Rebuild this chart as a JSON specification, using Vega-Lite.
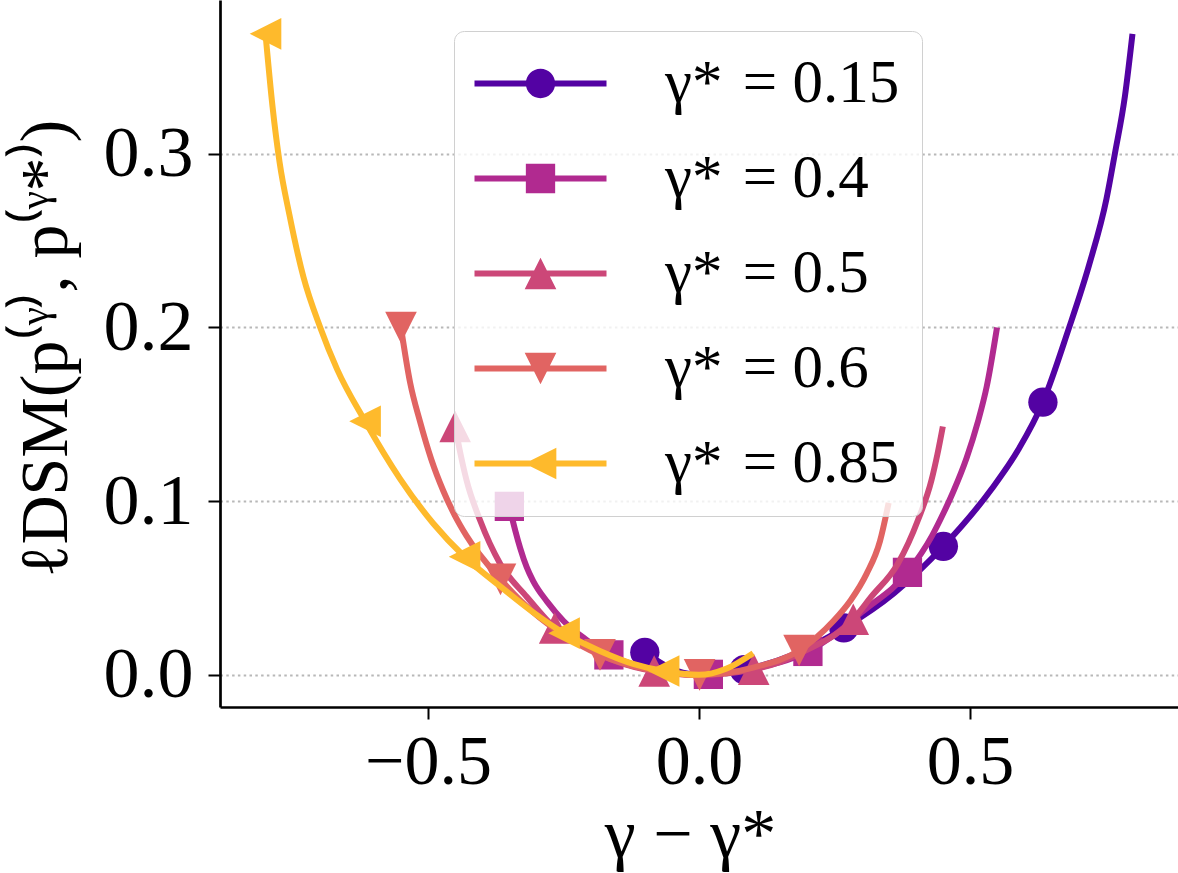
{
  "$schema": "https://vega.github.io/schema/vega-lite/v6.json",
  "width": 958,
  "height": 707,
  "autosize": {"type": "none"},
  "padding": {"left": 220, "top": 0, "right": 0, "bottom": 166},
  "background": "white",
  "config": {"view": {"stroke": null}, "font": "Liberation Serif"},
  "datasets": {
    "curves": [
      {"gamma_star": "0.15", "d": -0.1, "loss": 0.013},
      {"gamma_star": "0.15", "d": -0.06, "loss": 0.005},
      {"gamma_star": "0.15", "d": -0.03, "loss": 0.0012},
      {"gamma_star": "0.15", "d": 0.0, "loss": 0.0},
      {"gamma_star": "0.15", "d": 0.0837, "loss": 0.003},
      {"gamma_star": "0.15", "d": 0.17, "loss": 0.0112},
      {"gamma_star": "0.15", "d": 0.2673, "loss": 0.027},
      {"gamma_star": "0.15", "d": 0.36, "loss": 0.047},
      {"gamma_star": "0.15", "d": 0.451, "loss": 0.074},
      {"gamma_star": "0.15", "d": 0.54, "loss": 0.107},
      {"gamma_star": "0.15", "d": 0.59, "loss": 0.13},
      {"gamma_star": "0.15", "d": 0.6347, "loss": 0.157},
      {"gamma_star": "0.15", "d": 0.681, "loss": 0.198},
      {"gamma_star": "0.15", "d": 0.72, "loss": 0.236},
      {"gamma_star": "0.15", "d": 0.752, "loss": 0.274},
      {"gamma_star": "0.15", "d": 0.7675, "loss": 0.3},
      {"gamma_star": "0.15", "d": 0.786, "loss": 0.333},
      {"gamma_star": "0.15", "d": 0.8, "loss": 0.369},

      {"gamma_star": "0.4", "d": -0.35, "loss": 0.097},
      {"gamma_star": "0.4", "d": -0.339, "loss": 0.083},
      {"gamma_star": "0.4", "d": -0.33, "loss": 0.073},
      {"gamma_star": "0.4", "d": -0.318, "loss": 0.062},
      {"gamma_star": "0.4", "d": -0.306, "loss": 0.054},
      {"gamma_star": "0.4", "d": -0.28, "loss": 0.042},
      {"gamma_star": "0.4", "d": -0.25, "loss": 0.031},
      {"gamma_star": "0.4", "d": -0.207, "loss": 0.02},
      {"gamma_star": "0.4", "d": -0.1663, "loss": 0.0115},
      {"gamma_star": "0.4", "d": -0.1, "loss": 0.0042},
      {"gamma_star": "0.4", "d": -0.05, "loss": 0.001},
      {"gamma_star": "0.4", "d": 0.0, "loss": 0.0},
      {"gamma_star": "0.4", "d": 0.0173, "loss": 0.0003},
      {"gamma_star": "0.4", "d": 0.1, "loss": 0.0035},
      {"gamma_star": "0.4", "d": 0.201, "loss": 0.0135},
      {"gamma_star": "0.4", "d": 0.25, "loss": 0.023},
      {"gamma_star": "0.4", "d": 0.3, "loss": 0.036},
      {"gamma_star": "0.4", "d": 0.3847, "loss": 0.059},
      {"gamma_star": "0.4", "d": 0.43, "loss": 0.08},
      {"gamma_star": "0.4", "d": 0.451, "loss": 0.093},
      {"gamma_star": "0.4", "d": 0.47, "loss": 0.106},
      {"gamma_star": "0.4", "d": 0.494, "loss": 0.125},
      {"gamma_star": "0.4", "d": 0.515, "loss": 0.146},
      {"gamma_star": "0.4", "d": 0.531, "loss": 0.166},
      {"gamma_star": "0.4", "d": 0.55, "loss": 0.2},

      {"gamma_star": "0.5", "d": -0.45, "loss": 0.143},
      {"gamma_star": "0.5", "d": -0.44, "loss": 0.127},
      {"gamma_star": "0.5", "d": -0.429, "loss": 0.112},
      {"gamma_star": "0.5", "d": -0.404, "loss": 0.089},
      {"gamma_star": "0.5", "d": -0.367, "loss": 0.064},
      {"gamma_star": "0.5", "d": -0.318, "loss": 0.045},
      {"gamma_star": "0.5", "d": -0.2663, "loss": 0.027},
      {"gamma_star": "0.5", "d": -0.2, "loss": 0.0145},
      {"gamma_star": "0.5", "d": -0.15, "loss": 0.0075},
      {"gamma_star": "0.5", "d": -0.0827, "loss": 0.0022},
      {"gamma_star": "0.5", "d": 0.0, "loss": 0.0},
      {"gamma_star": "0.5", "d": 0.101, "loss": 0.0032},
      {"gamma_star": "0.5", "d": 0.15, "loss": 0.0075},
      {"gamma_star": "0.5", "d": 0.2, "loss": 0.0145},
      {"gamma_star": "0.5", "d": 0.2847, "loss": 0.032},
      {"gamma_star": "0.5", "d": 0.318, "loss": 0.045},
      {"gamma_star": "0.5", "d": 0.367, "loss": 0.064},
      {"gamma_star": "0.5", "d": 0.404, "loss": 0.089},
      {"gamma_star": "0.5", "d": 0.429, "loss": 0.112},
      {"gamma_star": "0.5", "d": 0.44, "loss": 0.127},
      {"gamma_star": "0.5", "d": 0.45, "loss": 0.143},

      {"gamma_star": "0.6", "d": -0.55, "loss": 0.2},
      {"gamma_star": "0.6", "d": -0.533, "loss": 0.168},
      {"gamma_star": "0.6", "d": -0.515, "loss": 0.146},
      {"gamma_star": "0.6", "d": -0.494, "loss": 0.124},
      {"gamma_star": "0.6", "d": -0.472, "loss": 0.106},
      {"gamma_star": "0.6", "d": -0.451, "loss": 0.092},
      {"gamma_star": "0.6", "d": -0.429, "loss": 0.08},
      {"gamma_star": "0.6", "d": -0.3663, "loss": 0.055},
      {"gamma_star": "0.6", "d": -0.306, "loss": 0.036},
      {"gamma_star": "0.6", "d": -0.25, "loss": 0.023},
      {"gamma_star": "0.6", "d": -0.1827, "loss": 0.0115},
      {"gamma_star": "0.6", "d": -0.1, "loss": 0.0035},
      {"gamma_star": "0.6", "d": 0.001, "loss": 0.0},
      {"gamma_star": "0.6", "d": 0.05, "loss": 0.001},
      {"gamma_star": "0.6", "d": 0.1, "loss": 0.0042},
      {"gamma_star": "0.6", "d": 0.1847, "loss": 0.014},
      {"gamma_star": "0.6", "d": 0.248, "loss": 0.031},
      {"gamma_star": "0.6", "d": 0.28, "loss": 0.043},
      {"gamma_star": "0.6", "d": 0.309, "loss": 0.058},
      {"gamma_star": "0.6", "d": 0.334, "loss": 0.077},
      {"gamma_star": "0.6", "d": 0.35, "loss": 0.099},

      {"gamma_star": "0.85", "d": -0.8, "loss": 0.369},
      {"gamma_star": "0.85", "d": -0.787, "loss": 0.327},
      {"gamma_star": "0.85", "d": -0.774, "loss": 0.295},
      {"gamma_star": "0.85", "d": -0.756, "loss": 0.265},
      {"gamma_star": "0.85", "d": -0.73, "loss": 0.229},
      {"gamma_star": "0.85", "d": -0.699, "loss": 0.2},
      {"gamma_star": "0.85", "d": -0.668, "loss": 0.176},
      {"gamma_star": "0.85", "d": -0.6163, "loss": 0.146},
      {"gamma_star": "0.85", "d": -0.552, "loss": 0.113},
      {"gamma_star": "0.85", "d": -0.49, "loss": 0.087},
      {"gamma_star": "0.85", "d": -0.4327, "loss": 0.068},
      {"gamma_star": "0.85", "d": -0.367, "loss": 0.051},
      {"gamma_star": "0.85", "d": -0.306, "loss": 0.036},
      {"gamma_star": "0.85", "d": -0.249, "loss": 0.024},
      {"gamma_star": "0.85", "d": -0.183, "loss": 0.0138},
      {"gamma_star": "0.85", "d": -0.12, "loss": 0.0062},
      {"gamma_star": "0.85", "d": -0.0653, "loss": 0.0022},
      {"gamma_star": "0.85", "d": 0.0, "loss": 0.0},
      {"gamma_star": "0.85", "d": 0.05, "loss": 0.0035},
      {"gamma_star": "0.85", "d": 0.1, "loss": 0.0125}
    ],
    "markers": [
      {"gamma_star": "0.15", "d": -0.1, "loss": 0.013},
      {"gamma_star": "0.15", "d": 0.0837, "loss": 0.003},
      {"gamma_star": "0.15", "d": 0.2673, "loss": 0.027},
      {"gamma_star": "0.15", "d": 0.451, "loss": 0.074},
      {"gamma_star": "0.15", "d": 0.6347, "loss": 0.157},
      {"gamma_star": "0.4", "d": -0.35, "loss": 0.097},
      {"gamma_star": "0.4", "d": -0.1663, "loss": 0.0115},
      {"gamma_star": "0.4", "d": 0.0173, "loss": 0.0003},
      {"gamma_star": "0.4", "d": 0.201, "loss": 0.0135},
      {"gamma_star": "0.4", "d": 0.3847, "loss": 0.059},
      {"gamma_star": "0.5", "d": -0.45, "loss": 0.143},
      {"gamma_star": "0.5", "d": -0.2663, "loss": 0.027},
      {"gamma_star": "0.5", "d": -0.0827, "loss": 0.0022},
      {"gamma_star": "0.5", "d": 0.101, "loss": 0.0032},
      {"gamma_star": "0.5", "d": 0.2847, "loss": 0.032},
      {"gamma_star": "0.6", "d": -0.55, "loss": 0.2},
      {"gamma_star": "0.6", "d": -0.3663, "loss": 0.055},
      {"gamma_star": "0.6", "d": -0.1827, "loss": 0.0115},
      {"gamma_star": "0.6", "d": 0.001, "loss": 0.0},
      {"gamma_star": "0.6", "d": 0.1847, "loss": 0.014},
      {"gamma_star": "0.85", "d": -0.8, "loss": 0.369},
      {"gamma_star": "0.85", "d": -0.6163, "loss": 0.146},
      {"gamma_star": "0.85", "d": -0.4327, "loss": 0.068},
      {"gamma_star": "0.85", "d": -0.249, "loss": 0.024},
      {"gamma_star": "0.85", "d": -0.0653, "loss": 0.0022}
    ]
  },
  "encoding": {
    "x": {
      "field": "d",
      "type": "quantitative",
      "scale": {"domain": [-0.884, 0.884], "nice": false, "zero": false},
      "axis": {
        "values": [-0.5, 0, 0.5],
        "format": ".1f",
        "grid": false,
        "title": "γ − γ*",
        "titleFont": "Liberation Serif",
        "titleFontSize": 70,
        "titleFontWeight": "normal",
        "titleColor": "black",
        "titleX": 470,
        "titleY": 149,
        "titleAlign": "center",
        "titleBaseline": "alphabetic",
        "labelFont": "Liberation Serif",
        "labelFontSize": 70,
        "labelColor": "black",
        "labelBaseline": "alphabetic",
        "labelPadding": 64,
        "labelFlush": false,
        "labelOverlap": false,
        "tickSize": 12,
        "tickWidth": 2,
        "tickColor": "black",
        "domainColor": "black",
        "domainWidth": 2.7
      }
    },
    "y": {
      "field": "loss",
      "type": "quantitative",
      "scale": {"domain": [-0.0185, 0.3885], "nice": false, "zero": false},
      "axis": {
        "values": [0, 0.1, 0.2, 0.3],
        "format": ".1f",
        "grid": true,
        "gridColor": "#b8b8b8",
        "gridDash": [2.5, 3.3],
        "gridWidth": 2,
        "title": "ℓDSM(p⁽ᵞ⁾, p⁽ᵞ*⁾)",
        "titleFont": "Liberation Serif",
        "titleFontSize": 68,
        "titleFontWeight": "normal",
        "titleColor": "black",
        "titleX": -154,
        "titleY": 348,
        "titleAngle": -90,
        "titleAlign": "center",
        "titleBaseline": "alphabetic",
        "labelFont": "Liberation Serif",
        "labelFontSize": 72,
        "labelColor": "black",
        "labelBaseline": "middle",
        "labelPadding": 15,
        "labelOverlap": false,
        "tickSize": 12,
        "tickWidth": 2,
        "tickColor": "black",
        "domainColor": "black",
        "domainWidth": 2.7
      }
    }
  },
  "layer": [
    {
      "data": {"name": "curves"},
      "transform": [{"filter": "datum.gamma_star === '0.15'"}],
      "mark": {"type": "line", "color": "#5302a3", "strokeWidth": 6, "interpolate": "monotone", "strokeCap": "butt"},
      "encoding": {}
    },
    {
      "data": {"name": "markers"},
      "transform": [{"filter": "datum.gamma_star === '0.15'"}],
      "mark": {"type": "point", "color": "#5302a3", "filled": true, "opacity": 1, "shape": "circle", "size": 858}
    },
    {
      "data": {"name": "curves"},
      "transform": [{"filter": "datum.gamma_star === '0.4'"}],
      "mark": {"type": "line", "color": "#b12a90", "strokeWidth": 6, "interpolate": "monotone", "strokeCap": "butt"},
      "encoding": {}
    },
    {
      "data": {"name": "markers"},
      "transform": [{"filter": "datum.gamma_star === '0.4'"}],
      "mark": {"type": "point", "color": "#b12a90", "filled": true, "opacity": 1, "shape": "square", "size": 858}
    },
    {
      "data": {"name": "curves"},
      "transform": [{"filter": "datum.gamma_star === '0.5'"}],
      "mark": {"type": "line", "color": "#cc4778", "strokeWidth": 6, "interpolate": "monotone", "strokeCap": "butt"},
      "encoding": {}
    },
    {
      "data": {"name": "markers"},
      "transform": [{"filter": "datum.gamma_star === '0.5'"}],
      "mark": {"type": "point", "color": "#cc4778", "filled": true, "opacity": 1, "shape": "M0,-1L1,1H-1Z", "size": 1000}
    },
    {
      "data": {"name": "curves"},
      "transform": [{"filter": "datum.gamma_star === '0.6'"}],
      "mark": {"type": "line", "color": "#e16462", "strokeWidth": 6, "interpolate": "monotone", "strokeCap": "butt"},
      "encoding": {}
    },
    {
      "data": {"name": "markers"},
      "transform": [{"filter": "datum.gamma_star === '0.6'"}],
      "mark": {"type": "point", "color": "#e16462", "filled": true, "opacity": 1, "shape": "M0,1L-1,-1H1Z", "size": 1000}
    },
    {
      "data": {"name": "curves"},
      "transform": [{"filter": "datum.gamma_star === '0.85'"}],
      "mark": {"type": "line", "color": "#feba2c", "strokeWidth": 6, "interpolate": "monotone", "strokeCap": "butt"},
      "encoding": {}
    },
    {
      "data": {"name": "markers"},
      "transform": [{"filter": "datum.gamma_star === '0.85'"}],
      "mark": {"type": "point", "color": "#feba2c", "filled": true, "opacity": 1, "shape": "M-1,0L1,-1V1Z", "size": 1000}
    },
    {
      "description": "Legend carrier: draws no points itself, only holds the colour and line-with-marker shape scales for the key.",
      "data": {"name": "markers"},
      "transform": [{"filter": "datum.gamma_star === 'none'"}],
      "mark": {"type": "point", "filled": true, "opacity": 1, "size": 1024},
      "encoding": {
        "color": {
          "field": "gamma_star",
          "type": "nominal",
          "scale": {
            "domain": ["0.15", "0.4", "0.5", "0.6", "0.85"],
            "range": ["#5302a3", "#b12a90", "#cc4778", "#e16462", "#feba2c"]
          },
          "legend": {
            "title": null,
            "orient": "none",
            "legendX": 234,
            "legendY": 31,
            "padding": 22,
            "fillColor": "rgba(255,255,255,0.8)",
            "strokeColor": "#d0d0d0",
            "cornerRadius": 10,
            "symbolSize": 1024,
            "symbolStrokeWidth": 0,
            "symbolOpacity": 1,
            "labelFont": "Liberation Serif",
            "labelFontSize": 61,
            "labelColor": "black",
            "labelBaseline": "middle",
            "labelOffset": 128,
            "labelLimit": 500,
            "rowPadding": 33,
            "labelExpr": "'γ*\u2004= ' + datum.label"
          }
        },
        "shape": {
          "field": "gamma_star",
          "type": "nominal",
          "scale": {
            "domain": ["0.15", "0.4", "0.5", "0.6", "0.85"],
            "range": [
              "M-2,-0.19H6.25V0.19H-2Z M1.209,0A0.916,0.916 0 1,1 3.041,0A0.916,0.916 0 1,1 1.209,0Z",
              "M-2,-0.19H6.25V0.19H-2Z M1.209,-0.916H3.041V0.916H1.209Z",
              "M-2,-0.19H6.25V0.19H-2Z M2.125,-0.99L3.115,0.99H1.135Z",
              "M-2,-0.19H6.25V0.19H-2Z M2.125,0.99L1.135,-0.99H3.115Z",
              "M-2,-0.19H6.25V0.19H-2Z M1.135,0L3.115,-0.99V0.99Z"
            ]
          },
          "legend": {
            "title": null,
            "orient": "none",
            "legendX": 234,
            "legendY": 31,
            "padding": 22,
            "fillColor": "rgba(255,255,255,0.8)",
            "strokeColor": "#d0d0d0",
            "cornerRadius": 10,
            "symbolSize": 1024,
            "symbolStrokeWidth": 0,
            "symbolOpacity": 1,
            "labelFont": "Liberation Serif",
            "labelFontSize": 61,
            "labelColor": "black",
            "labelBaseline": "middle",
            "labelOffset": 128,
            "labelLimit": 500,
            "rowPadding": 33,
            "labelExpr": "'γ*\u2004= ' + datum.label"
          }
        }
      }
    }
  ]
}
